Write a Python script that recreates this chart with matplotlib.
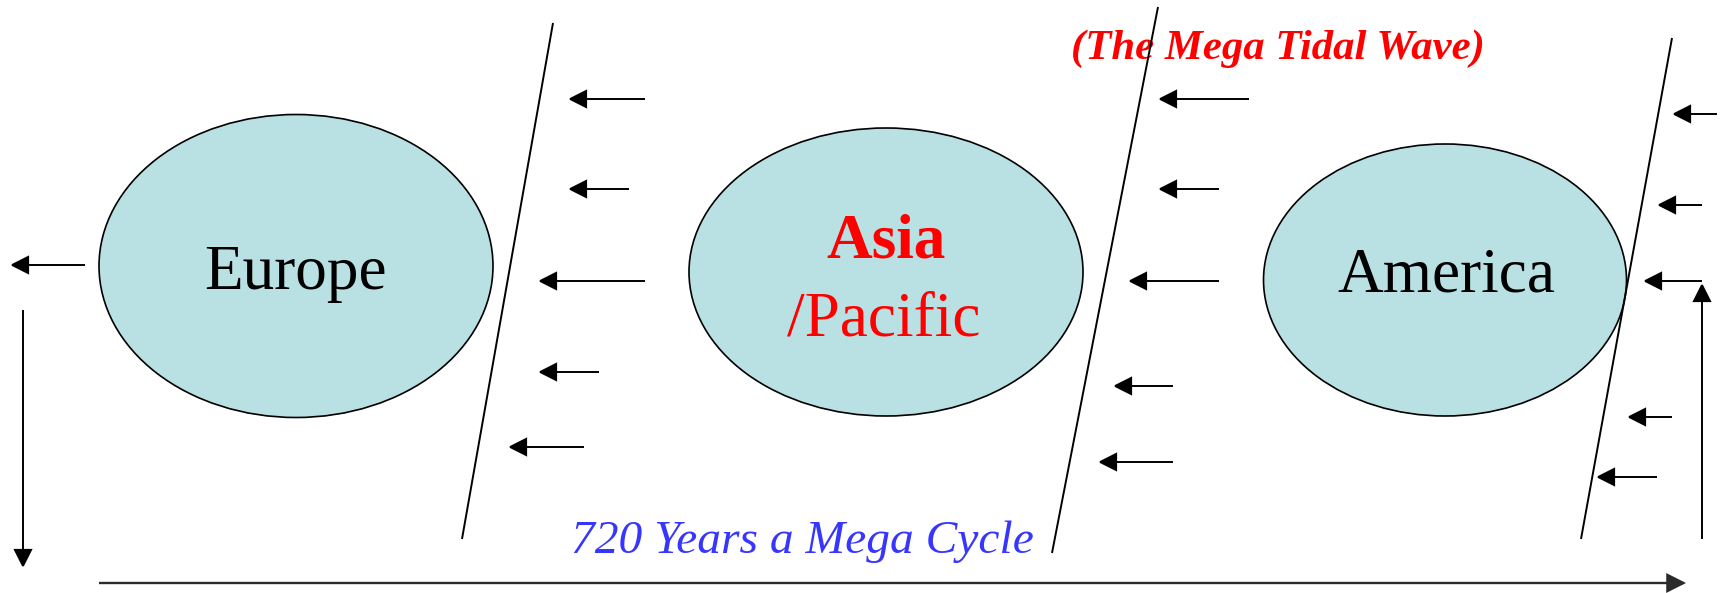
import matplotlib
matplotlib.use("Agg")
import matplotlib.pyplot as plt
from matplotlib.patches import Ellipse, FancyArrowPatch

# ---- diagram content (pixel coordinates of the 1723x593 canvas) ----
regions = ["Europe", "Asia", "America"]
region_centers_x = [296, 886, 1445]
region_centers_y = [266, 272, 280]
region_widths = [394, 394, 363]
region_heights = [303, 288, 272]

# wave fronts (slanted lines): top point and bottom point
front_top_x = [553, 1158, 1672]
front_top_y = [23, 7, 38]
front_bot_x = [462, 1052, 1581]
front_bot_y = [539, 553, 539]

# small leftward arrows: (y, tip x, tail x)
wave_arrow_y = [99, 189, 281, 372, 447,
                99, 189, 281, 386, 462,
                114, 205, 281, 417, 477]
wave_arrow_tip = [568, 568, 538, 538, 508,
                  1158, 1158, 1128, 1113, 1098,
                  1672, 1657, 1643, 1627, 1596]
wave_arrow_tail = [645, 629, 645, 599, 584,
                   1249, 1219, 1219, 1173, 1173,
                   1717, 1702, 1702, 1672, 1657]

title_text = "(The Mega Tidal Wave)"
cycle_text = "720 Years a Mega Cycle"

W, H = 1723, 593
fig = plt.figure(figsize=(W / 100, H / 100), dpi=100)
ax = fig.add_axes([0, 0, 1, 1])
ax.set_xlim(0, W)
ax.set_ylim(H, 0)
ax.axis("off")

serif = "Liberation Serif"
fill = "#B9E0E3"

for name, cx, cy, w, h in zip(regions, region_centers_x, region_centers_y,
                              region_widths, region_heights):
    ax.add_patch(Ellipse((cx, cy), w, h, facecolor=fill, edgecolor="black",
                         lw=1.2, zorder=1))

for x0, y0, x1, y1 in zip(front_top_x, front_top_y, front_bot_x, front_bot_y):
    ax.plot([x0, x1], [y0, y1], color="black", lw=1.4, zorder=3,
            solid_capstyle="butt")


def arrow(x_tail, y_tail, x_tip, y_tip, color="black", lw=1.4):
    a = FancyArrowPatch((x_tail, y_tail), (x_tip, y_tip),
                        arrowstyle="-|>,head_length=11.5,head_width=5.8",
                        mutation_scale=1, shrinkA=0, shrinkB=0,
                        color=color, lw=lw, zorder=4,
                        joinstyle="miter", capstyle="butt")
    ax.add_patch(a)


for y, tip, tail in zip(wave_arrow_y, wave_arrow_tip, wave_arrow_tail):
    arrow(tail, y, tip, y)

# cycle arrows around the frame
arrow(85, 265, 10, 265)         # leaving Europe to the west
arrow(23, 310, 23, 568)         # down the left side
arrow(99, 583, 1686, 583, color="#2a2a2a", lw=1.7)  # long bottom arrow
arrow(1702, 539, 1702, 283)     # up the right side

# labels
ax.text(295, 289, "Europe", fontsize=45.5, family=serif, ha="center",
        va="baseline", zorder=5)
ax.text(886, 258, "Asia", fontsize=45.5, family=serif, fontweight="bold",
        color="red", ha="center", va="baseline", zorder=5)
ax.text(884, 336, "/Pacific", fontsize=45.5, family=serif, color="red",
        ha="center", va="baseline", zorder=5)
ax.text(1446, 292, "America", fontsize=45.5, family=serif, ha="center",
        va="baseline", zorder=5)
ax.text(1071, 59, title_text, fontsize=30.8, family=serif, fontweight="bold",
        fontstyle="italic", color="red", ha="left", va="baseline", zorder=2)
ax.text(571, 553, cycle_text, fontsize=34.2, family=serif, fontstyle="italic",
        color="#3636FF", ha="left", va="baseline", zorder=5)

fig.savefig("out.png", dpi=100, facecolor="white")
